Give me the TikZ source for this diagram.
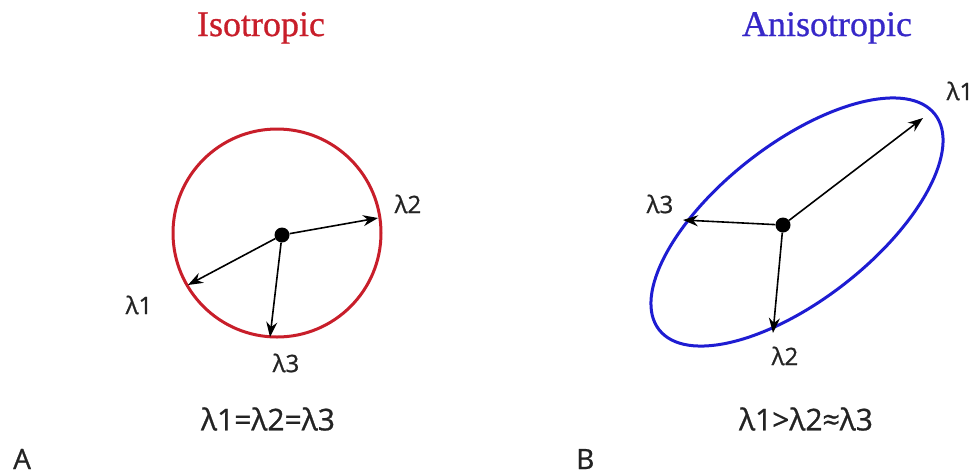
\documentclass[tikz,border=0pt]{standalone}
\usepackage{fontspec}
\setmainfont{Liberation Serif}
\newfontfamily\ttlfont{Liberation Serif}[FakeBold=0.8]
\newfontfamily\lblfont{Open Sans}[FakeBold=0.9]
\usetikzlibrary{arrows.meta}
\definecolor{isored}{RGB}{200,30,42}
\definecolor{anisoblue}{RGB}{30,28,210}
\definecolor{titleblue}{RGB}{55,40,200}
\definecolor{txtgray}{RGB}{35,35,35}
\tikzset{
  vec/.style={line width=1.6pt,-{Stealth[length=15pt,width=11pt]}},
  ctr/.style={circle,fill=black,inner sep=0pt,minimum size=15pt},
  lbl/.style={inner sep=0pt,text=txtgray,font=\lblfont\fontsize{24}{24}\selectfont},
  formula/.style={inner sep=0pt,text=txtgray,font=\lblfont\fontsize{30}{30}\selectfont},
  panel/.style={inner sep=0pt,anchor=base west,text=txtgray,font=\lblfont\fontsize{28}{28}\selectfont},
  ttl/.style={inner sep=0pt,anchor=base,font=\ttlfont\fontsize{36}{36}\selectfont},
}
\begin{document}
\begin{tikzpicture}[x=1pt,y=-1pt]
\useasboundingbox (0,0) rectangle (977,475);
% titles
\node[ttl,text=isored] (t1) at (261,36) {Isotropic};
\node[ttl,text=titleblue] (t2) at (827,36) {Anisotropic};
% isotropic circle
\draw[isored,line width=3pt] (277,233) circle [radius=104];
\node[ctr] (c1) at (282,235) {};
\coordinate (c1a) at (378,218);
\coordinate (c1b) at (188,285);
\coordinate (c1c) at (270,337);
\draw[vec] (c1) -- (c1a);
\draw[vec] (c1) -- (c1b);
\draw[vec] (c1) -- (c1c);
\node[lbl] (l12) at (408,204) {λ2};
\node[lbl] (l11) at (139,305) {λ1};
\node[lbl] (l13) at (286,363) {λ3};
% anisotropic ellipse
\draw[anisoblue,line width=3pt,rotate around={38:(797,222)}] (797,222) ellipse [x radius=175,y radius=78];
\node[ctr] (c2) at (783,225) {};
\coordinate (c2a) at (923,118);
\coordinate (c2b) at (683,220);
\coordinate (c2c) at (773,333);
\draw[vec] (c2) -- (c2a);
\draw[vec] (c2) -- (c2b);
\draw[vec] (c2) -- (c2c);
\node[lbl] (l21) at (960,91) {λ1};
\node[lbl] (l23) at (660,204) {λ3};
\node[lbl] (l22) at (785,356) {λ2};
% formulas
\node[formula] (f1) at (268,419) {λ1=λ2=λ3};
\node[formula] (f2) at (806,419) {λ1>λ2≈λ3};
% panel letters
\node[panel] (pa) at (13,469) {A};
\node[panel] (pb) at (576,469) {B};
\end{tikzpicture}
\end{document}
